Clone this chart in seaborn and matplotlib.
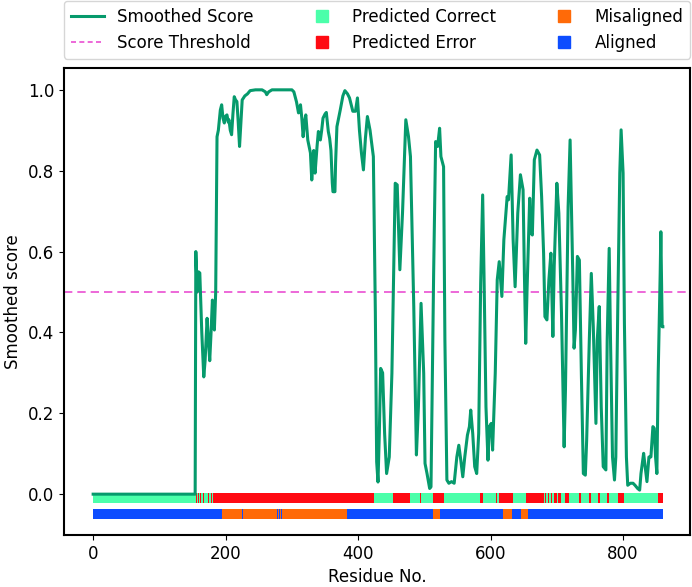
import pandas as pd
import matplotlib
matplotlib.use("Agg")
import matplotlib.pyplot as plt
from matplotlib.lines import Line2D
import seaborn as sns

# ── Data ─────────────────────────────────────────────────────
residue = [0, 154, 155, 157, 159, 161, 164, 167, 169, 172, 174, 176, 178, 180,
           182, 183, 185, 186, 187, 189, 192, 194, 196, 198, 200, 202, 204, 205,
           207, 209, 211, 213, 215, 217, 219, 221, 223, 225, 229, 233, 237, 245,
           255, 260, 262, 265, 270, 285, 300, 303, 307, 310, 313, 315, 317, 319,
           321, 324, 326, 328, 330, 331, 333, 335, 338, 340, 343, 345, 347, 350,
           352, 355, 357, 359, 361, 362, 365, 366, 368, 373, 377, 380, 384, 387,
           390, 392, 396, 399, 402, 405, 408, 411, 414, 418, 421, 423, 426, 428,
           430, 432, 434, 437, 440, 443, 447, 451, 456, 459, 463, 467, 472, 476,
           479, 484, 488, 491, 495, 499, 501, 504, 508, 510, 514, 517, 520, 523,
           525, 529, 531, 534, 537, 541, 545, 549, 552, 555, 558, 561, 565, 568,
           570, 573, 576, 579, 582, 585, 588, 590, 593, 596, 598, 601, 603, 607,
           610, 613, 617, 620, 623, 625, 627, 631, 634, 637, 641, 645, 649, 651,
           653, 655, 659, 661, 663, 666, 670, 674, 677, 680, 682, 685, 688, 691,
           694, 696, 700, 703, 707, 711, 713, 717, 720, 724, 726, 728, 731, 734,
           737, 740, 743, 745, 749, 752, 755, 759, 761, 764, 767, 770, 774, 776,
           779, 781, 784, 787, 789, 792, 795, 797, 800, 802, 805, 807, 811, 815,
           818, 822, 825, 827, 831, 833, 836, 839, 842, 845, 847, 849, 851, 853,
           856, 857, 859, 860]
score = [0.0, 0.0, 0.60, 0.50, 0.55, 0.547, 0.40, 0.29, 0.33, 0.435, 0.38, 0.33,
         0.40, 0.48, 0.45, 0.406, 0.50, 0.695, 0.884, 0.90, 0.95, 0.963, 0.93,
         0.918, 0.935, 0.938, 0.92, 0.926, 0.90, 0.889, 0.94, 0.983, 0.975,
         0.971, 0.92, 0.86, 0.92, 0.975, 0.985, 0.99, 0.998, 1.0, 1.0, 0.995,
         0.988, 0.995, 1.0, 1.0, 1.0, 0.995, 0.97, 0.943, 0.963, 0.93, 0.884,
         0.92, 0.938, 0.876, 0.86, 0.844, 0.777, 0.80, 0.85, 0.794, 0.86, 0.897,
         0.876, 0.90, 0.93, 0.94, 0.944, 0.897, 0.88, 0.85, 0.77, 0.748, 0.748,
         0.82, 0.909, 0.95, 0.985, 0.998, 0.99, 0.98, 0.96, 0.947, 0.947, 0.98,
         0.90, 0.844, 0.802, 0.88, 0.934, 0.90, 0.86, 0.835, 0.45, 0.08, 0.03,
         0.15, 0.311, 0.30, 0.15, 0.051, 0.092, 0.299, 0.769, 0.765, 0.555,
         0.695, 0.926, 0.885, 0.835, 0.464, 0.097, 0.216, 0.472, 0.299, 0.076,
         0.051, 0.014, 0.018, 0.546, 0.872, 0.86, 0.905, 0.835, 0.81, 0.381,
         0.035, 0.027, 0.031, 0.027, 0.092, 0.121, 0.084, 0.043, 0.092, 0.146,
         0.167, 0.208, 0.15, 0.068, 0.051, 0.15, 0.521, 0.74, 0.546, 0.216,
         0.084, 0.167, 0.175, 0.109, 0.299, 0.53, 0.575, 0.489, 0.629, 0.695,
         0.736, 0.728, 0.839, 0.629, 0.513, 0.695, 0.79, 0.753, 0.546, 0.373,
         0.505, 0.732, 0.645, 0.641, 0.827, 0.851, 0.839, 0.736, 0.596, 0.439,
         0.431, 0.53, 0.596, 0.39, 0.563, 0.769, 0.695, 0.447, 0.117, 0.258,
         0.711, 0.876, 0.546, 0.361, 0.406, 0.588, 0.579, 0.299, 0.051, 0.047,
         0.134, 0.381, 0.546, 0.414, 0.175, 0.381, 0.464, 0.216, 0.068, 0.06,
         0.381, 0.608, 0.381, 0.092, 0.035, 0.092, 0.464, 0.794, 0.901, 0.794,
         0.422, 0.092, 0.022, 0.027, 0.027, 0.022, 0.014, 0.01, 0.051, 0.101,
         0.072, 0.031, 0.092, 0.092, 0.167, 0.163, 0.092, 0.051, 0.299, 0.546,
         0.649, 0.414, 0.414]

n_residues = 860
threshold = 0.5

# predicted error stretches (start, end) on the predicted-correct background
error_spans = [(155, 157), (158.5, 160), (162, 163.5), (166, 167), (170, 171),
               (174, 175.5), (178, 179), (181, 424), (452, 479), (493, 494.5),
               (513, 530), (584, 589), (608, 609.5), (612, 618), (619, 634),
               (654, 680), (682, 683.5), (686, 687.5), (691, 692.5), (696, 700),
               (702, 707), (712, 718), (733, 736), (748, 751), (762, 765),
               (776, 779), (793, 802), (853, 860)]
# misaligned stretches (start, end) on the aligned background
misaligned_spans = [(194, 224.5), (225.5, 277.5), (278.5, 280.5), (281.5, 283.5),
                    (284.5, 383), (513, 524), (618, 633), (646, 656)]

# ── Colours ──────────────────────────────────────────────────
c_line = "#069a6c"
c_thr = "#ea4fd2"
c_correct = "#4bffaa"
c_error = "#ff0a12"
c_mis = "#ff6a08"
c_ali = "#0d4dff"

plt.rcParams["font.size"] = 12
plt.rcParams["axes.linewidth"] = 1.5

fig = plt.figure(figsize=(6.92, 5.87), dpi=100)
ax = fig.add_axes([64 / 692, 52 / 587, 626 / 692, 467 / 587])

df = pd.DataFrame({"residue": residue, "score": score})

# status bars
ax.broken_barh([(0, n_residues)], (-0.0225, 0.025), facecolors=c_correct, zorder=1)
ax.broken_barh([(a, b - a) for a, b in error_spans], (-0.0225, 0.025),
               facecolors=c_error, zorder=1.1)
ax.broken_barh([(0, n_residues)], (-0.0625, 0.025), facecolors=c_ali, zorder=1)
ax.broken_barh([(a, b - a) for a, b in misaligned_spans], (-0.0625, 0.025),
               facecolors=c_mis, zorder=1.1)

sns.lineplot(data=df, x="residue", y="score", color=c_line, linewidth=2.2,
             ax=ax, zorder=3)
ax.axhline(threshold, color=c_thr, linestyle="--", dashes=(5, 3),
           linewidth=1.2, zorder=2)

ax.set_xlim(-44, 901)
ax.set_ylim(-0.101, 1.054)
ax.set_yticks([0.0, 0.2, 0.4, 0.6, 0.8, 1.0])
ax.set_xlabel("Residue No.")
ax.set_ylabel("Smoothed score")

handles = [
    Line2D([], [], color=c_line, linewidth=2.2),
    Line2D([], [], color=c_thr, linestyle="--", dashes=(3, 2), linewidth=1.2),
    Line2D([], [], color=c_correct, marker="s", linestyle="", markersize=8),
    Line2D([], [], color=c_error, marker="s", linestyle="", markersize=8),
    Line2D([], [], color=c_mis, marker="s", linestyle="", markersize=8),
    Line2D([], [], color=c_ali, marker="s", linestyle="", markersize=8),
]
labels = ["Smoothed Score", "Score Threshold", "Predicted Correct",
          "Predicted Error", "Misaligned", "Aligned"]
ax.legend(handles, labels, bbox_to_anchor=(0., 1.02, 1., .102), loc="lower left",
          ncol=3, mode="expand", borderaxespad=0., fontsize=12)

fig.savefig("out.png", dpi=100)
